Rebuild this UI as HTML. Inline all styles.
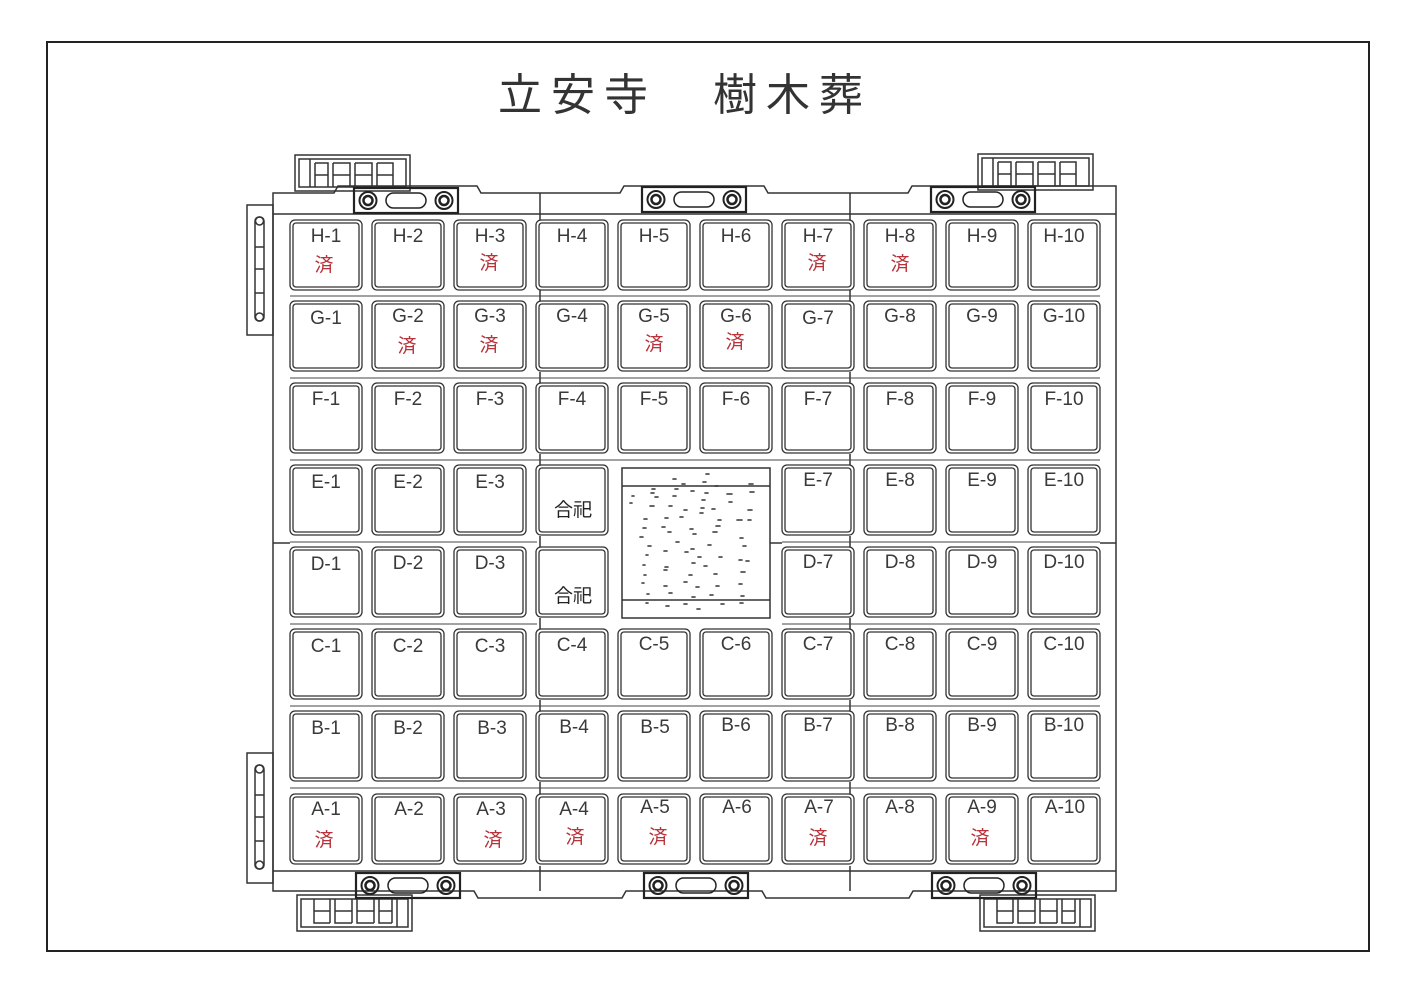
<!DOCTYPE html>
<html><head><meta charset="utf-8"><style>
html,body{margin:0;padding:0;background:#fff;}
svg{display:block;}
.l{font-family:"Liberation Sans","Noto Sans CJK JP",sans-serif;font-size:19px;fill:#3a3a3a;text-anchor:middle;}
.r{font-family:"Noto Sans CJK JP",sans-serif;font-size:19px;fill:#b8333a;text-anchor:middle;}
.k{font-family:"Noto Sans CJK JP",sans-serif;font-size:19px;fill:#222;text-anchor:middle;}
.t{font-family:"Noto Sans CJK JP",sans-serif;font-size:44px;fill:#333;letter-spacing:9px;}
</style></head><body>
<svg width="1415" height="1000" viewBox="0 0 1415 1000" xmlns="http://www.w3.org/2000/svg">
<defs>
<g id="c" fill="none" stroke="#333" stroke-width="1.3">
<rect x="0" y="0" width="72" height="70" rx="5"/>
<rect x="3" y="3" width="66" height="64" rx="3"/>
</g>
<g id="h" fill="none" stroke="#222">
<rect x="0" y="0" width="104" height="25" stroke-width="2.2"/>
<circle cx="14" cy="12.5" r="8.5" stroke-width="2"/><circle cx="14" cy="12.5" r="4.5" stroke-width="2.5"/>
<circle cx="90" cy="12.5" r="8.5" stroke-width="2"/><circle cx="90" cy="12.5" r="4.5" stroke-width="2.5"/>
<rect x="32" y="5" width="40" height="15" rx="7.5" stroke-width="1.5"/>
</g>
<g id="s" fill="none" stroke="#333" stroke-width="1.5">
<rect x="0" y="0" width="115" height="36"/>
<rect x="4" y="4" width="107" height="28"/>
<path d="M15 4V32M20 8V32M20 8H33V32M38 8V32M38 8H55V32M60 8V32M60 8H77V32M82 8V32M82 8H98V32M20 20H33M38 20H55M60 20H77M82 20H98"/>
</g>
<g id="v" fill="none" stroke="#333" stroke-width="1.5">
<rect x="0" y="0" width="26" height="130"/>
<rect x="8" y="12" width="9" height="104" rx="4"/>
<circle cx="12.5" cy="16" r="4"/><circle cx="12.5" cy="112" r="4"/>
<path d="M8 42H17M8 64H17M8 88H17"/>
</g>
</defs>
<rect x="47" y="42" width="1322" height="909" fill="none" stroke="#222" stroke-width="2"/>
<text class="t" x="498" y="110">立安寺</text>
<text class="t" x="713" y="110">樹木葬</text>

<use href="#s" x="295" y="155"/>
<use href="#s" x="978" y="154"/>
<use href="#s" x="297" y="895" transform="rotate(180 354.5 913)"/>
<use href="#s" x="980" y="895" transform="rotate(180 1037.5 913)"/>
<use href="#v" x="247" y="205"/>
<use href="#v" x="247" y="753"/>

<g fill="none" stroke="#333" stroke-width="1.5">
<path d="M273 193H334L338 186H477L481 193H620L624 186H764L768 193H908L912 186H1116V891H913L909 898H766L762 891H626L622 898H478L474 891H273Z"/>
<path d="M540 193V220M850 193V220M540 866V891M850 866V891M540 290V301M850 290V301M540 372V383M850 372V383M540 454V465M850 454V465M540 536V547M850 536V547M540 618V629M850 618V629M540 700V711M850 700V711M540 782V794M850 782V794M273 543H290M1100 543H1116M770 543H782M273 214H1116M273 871H1116"/>
<rect x="622" y="468" width="148" height="150"/>
<path d="M622 486H770M622 600H770"/>
</g>
<use href="#h" x="354" y="188"/>
<use href="#h" x="642" y="187"/>
<use href="#h" x="931" y="187"/>
<use href="#h" x="356" y="873"/>
<use href="#h" x="644" y="873"/>
<use href="#h" x="932" y="873"/>

<g>
<use href="#c" x="290" y="220"/><use href="#c" x="372" y="220"/><use href="#c" x="454" y="220"/><use href="#c" x="536" y="220"/><use href="#c" x="618" y="220"/><use href="#c" x="700" y="220"/><use href="#c" x="782" y="220"/><use href="#c" x="864" y="220"/><use href="#c" x="946" y="220"/><use href="#c" x="1028" y="220"/>
<use href="#c" x="290" y="301"/><use href="#c" x="372" y="301"/><use href="#c" x="454" y="301"/><use href="#c" x="536" y="301"/><use href="#c" x="618" y="301"/><use href="#c" x="700" y="301"/><use href="#c" x="782" y="301"/><use href="#c" x="864" y="301"/><use href="#c" x="946" y="301"/><use href="#c" x="1028" y="301"/>
<use href="#c" x="290" y="383"/><use href="#c" x="372" y="383"/><use href="#c" x="454" y="383"/><use href="#c" x="536" y="383"/><use href="#c" x="618" y="383"/><use href="#c" x="700" y="383"/><use href="#c" x="782" y="383"/><use href="#c" x="864" y="383"/><use href="#c" x="946" y="383"/><use href="#c" x="1028" y="383"/>
<use href="#c" x="290" y="465"/><use href="#c" x="372" y="465"/><use href="#c" x="454" y="465"/><use href="#c" x="536" y="465"/><use href="#c" x="782" y="465"/><use href="#c" x="864" y="465"/><use href="#c" x="946" y="465"/><use href="#c" x="1028" y="465"/>
<use href="#c" x="290" y="547"/><use href="#c" x="372" y="547"/><use href="#c" x="454" y="547"/><use href="#c" x="536" y="547"/><use href="#c" x="782" y="547"/><use href="#c" x="864" y="547"/><use href="#c" x="946" y="547"/><use href="#c" x="1028" y="547"/>
<use href="#c" x="290" y="629"/><use href="#c" x="372" y="629"/><use href="#c" x="454" y="629"/><use href="#c" x="536" y="629"/><use href="#c" x="618" y="629"/><use href="#c" x="700" y="629"/><use href="#c" x="782" y="629"/><use href="#c" x="864" y="629"/><use href="#c" x="946" y="629"/><use href="#c" x="1028" y="629"/>
<use href="#c" x="290" y="711"/><use href="#c" x="372" y="711"/><use href="#c" x="454" y="711"/><use href="#c" x="536" y="711"/><use href="#c" x="618" y="711"/><use href="#c" x="700" y="711"/><use href="#c" x="782" y="711"/><use href="#c" x="864" y="711"/><use href="#c" x="946" y="711"/><use href="#c" x="1028" y="711"/>
<use href="#c" x="290" y="794"/><use href="#c" x="372" y="794"/><use href="#c" x="454" y="794"/><use href="#c" x="536" y="794"/><use href="#c" x="618" y="794"/><use href="#c" x="700" y="794"/><use href="#c" x="782" y="794"/><use href="#c" x="864" y="794"/><use href="#c" x="946" y="794"/><use href="#c" x="1028" y="794"/>
</g>
<path d="M290 296H1100M290 378H1100M290 460H1100M290 542H537M782 542H1100M290 624H537M782 624H1100M290 706H1100M290 788H1100" stroke="#444" stroke-width="1" fill="none"/>

<g class="l">
<text class="l" x="326" y="242">H-1</text><text class="l" x="408" y="242">H-2</text><text class="l" x="490" y="242">H-3</text><text class="l" x="572" y="242">H-4</text><text class="l" x="654" y="242">H-5</text><text class="l" x="736" y="242">H-6</text><text class="l" x="818" y="242">H-7</text><text class="l" x="900" y="242">H-8</text><text class="l" x="982" y="242">H-9</text><text class="l" x="1064" y="242">H-10</text>
<text class="l" x="326" y="324">G-1</text><text class="l" x="408" y="322">G-2</text><text class="l" x="490" y="322">G-3</text><text class="l" x="572" y="322">G-4</text><text class="l" x="654" y="322">G-5</text><text class="l" x="736" y="322">G-6</text><text class="l" x="818" y="324">G-7</text><text class="l" x="900" y="322">G-8</text><text class="l" x="982" y="322">G-9</text><text class="l" x="1064" y="322">G-10</text>
<text class="l" x="326" y="405">F-1</text><text class="l" x="408" y="405">F-2</text><text class="l" x="490" y="405">F-3</text><text class="l" x="572" y="405">F-4</text><text class="l" x="654" y="405">F-5</text><text class="l" x="736" y="405">F-6</text><text class="l" x="818" y="405">F-7</text><text class="l" x="900" y="405">F-8</text><text class="l" x="982" y="405">F-9</text><text class="l" x="1064" y="405">F-10</text>
<text class="l" x="326" y="488">E-1</text><text class="l" x="408" y="488">E-2</text><text class="l" x="490" y="488">E-3</text><text class="l" x="818" y="486">E-7</text><text class="l" x="900" y="486">E-8</text><text class="l" x="982" y="486">E-9</text><text class="l" x="1064" y="486">E-10</text>
<text class="l" x="326" y="570">D-1</text><text class="l" x="408" y="569">D-2</text><text class="l" x="490" y="569">D-3</text><text class="l" x="818" y="568">D-7</text><text class="l" x="900" y="568">D-8</text><text class="l" x="982" y="568">D-9</text><text class="l" x="1064" y="568">D-10</text>
<text class="l" x="326" y="652">C-1</text><text class="l" x="408" y="652">C-2</text><text class="l" x="490" y="652">C-3</text><text class="l" x="572" y="651">C-4</text><text class="l" x="654" y="650">C-5</text><text class="l" x="736" y="650">C-6</text><text class="l" x="818" y="650">C-7</text><text class="l" x="900" y="650">C-8</text><text class="l" x="982" y="650">C-9</text><text class="l" x="1064" y="650">C-10</text>
<text class="l" x="326" y="734">B-1</text><text class="l" x="408" y="734">B-2</text><text class="l" x="492" y="734">B-3</text><text class="l" x="574" y="733">B-4</text><text class="l" x="655" y="733">B-5</text><text class="l" x="736" y="731">B-6</text><text class="l" x="818" y="731">B-7</text><text class="l" x="900" y="731">B-8</text><text class="l" x="982" y="731">B-9</text><text class="l" x="1064" y="731">B-10</text>
<text class="l" x="326" y="815">A-1</text><text class="l" x="409" y="815">A-2</text><text class="l" x="491" y="815">A-3</text><text class="l" x="574" y="815">A-4</text><text class="l" x="655" y="813">A-5</text><text class="l" x="737" y="813">A-6</text><text class="l" x="819" y="813">A-7</text><text class="l" x="900" y="813">A-8</text><text class="l" x="982" y="813">A-9</text><text class="l" x="1065" y="813">A-10</text>
</g>
<g class="r">
<text class="r" x="324" y="271">済</text><text class="r" x="489" y="269">済</text><text class="r" x="817" y="269">済</text><text class="r" x="900" y="270">済</text>
<text class="r" x="407" y="352">済</text><text class="r" x="489" y="351">済</text><text class="r" x="654" y="350">済</text><text class="r" x="735" y="348">済</text>
<text class="r" x="324" y="846">済</text><text class="r" x="493" y="846">済</text><text class="r" x="575" y="843">済</text><text class="r" x="658" y="843">済</text><text class="r" x="818" y="844">済</text><text class="r" x="980" y="844">済</text>
</g>
<text class="k" x="573" y="516">合祀</text>
<text class="k" x="573" y="602">合祀</text>

<g stroke="#333" stroke-width="1.6" stroke-linecap="round">
<path d="M706 474h3M673 479h3M682 484h3M703 482h3M715 486h3M749 484h4M651 493h3M652 489h3M675 489h3M691 491h3M705 493h3M727 494h5M750 492h4M632 496h2M655 497h3M673 496h3M702 500h3M729 502h3M630 503h2M650 506h4M669 506h3M684 510h3M701 508h3M712 509h3M748 510h4M644 519h3M665 518h3M680 517h3M700 513h3M718 520h3M737 520h5M643 528h3M662 527h3M690 529h3M716 526h4M748 520h3M640 537h3M668 532h3M693 534h3M713 532h4M740 538h3M648 546h3M676 542h3M691 549h3M708 545h3M743 546h3M646 555h2M664 551h3M685 552h3M698 557h3M719 557h3M746 561h3M643 565h2M665 567h3M692 563h3M704 566h3M739 560h3M644 575h2M664 570h3M689 575h3M714 574h3M741 572h4M642 583h2M664 586h3M684 582h3M696 587h3M716 586h3M739 584h3M647 594h2M669 593h3M692 597h3M710 595h3M741 596h3M646 603h2M666 606h3M684 604h3M697 609h3M721 604h3M740 603h3"/>
</g>
</svg>
</body></html>
